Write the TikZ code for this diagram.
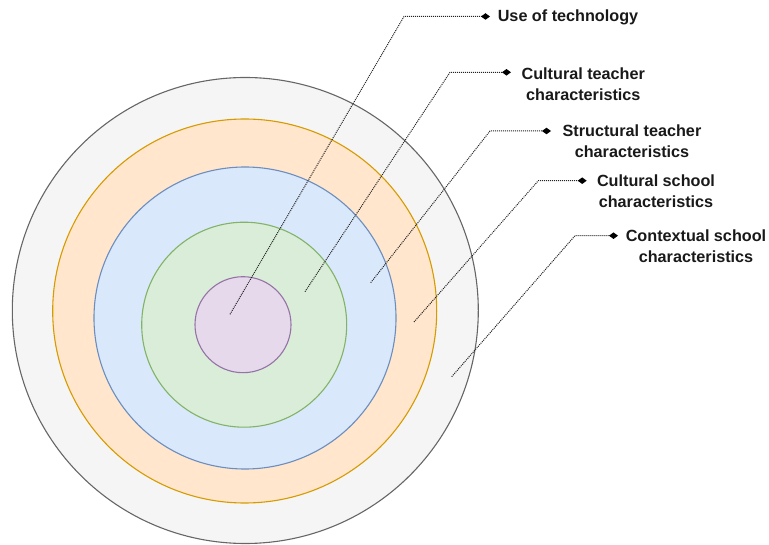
\documentclass[tikz,border=0pt]{standalone}
\usepackage{fontspec}
\setmainfont{Liberation Sans}
\usetikzlibrary{arrows.meta}

\definecolor{grayfill}{HTML}{F5F5F5}
\definecolor{graydraw}{HTML}{666666}
\definecolor{orangefill}{HTML}{FFE6CC}
\definecolor{orangedraw}{HTML}{D79B00}
\definecolor{bluefill}{HTML}{DAE8FC}
\definecolor{bluedraw}{HTML}{6C8EBF}
\definecolor{greenfill}{HTML}{D9EDD8}
\definecolor{greendraw}{HTML}{82B366}
\definecolor{purplefill}{HTML}{E6D9EC}
\definecolor{purpledraw}{HTML}{9673A6}
\definecolor{leadercol}{HTML}{222222}

\begin{document}
\begin{tikzpicture}[x=1pt,y=-1pt,
  ring/.style={circle, line width=1.1pt, inner sep=0pt, minimum size=#1},
  lbl/.style={font=\bfseries\fontsize{16.2}{21}\selectfont, align=center,
    inner sep=0pt, anchor=north, text=black!90},
  leader/.style={draw=leadercol, line width=1pt,
    dash pattern=on 1pt off 1pt,
    -{Diamond[length=9pt,width=6.5pt,fill=black,line width=0pt]}}]
\useasboundingbox (0,0) rectangle (769,545);

% nested rings, outermost first
\node[ring=466pt, fill=grayfill,   draw=graydraw]   (outer)  at (245.3,310.5) {};
\node[ring=384pt, fill=orangefill, draw=orangedraw] (orange) at (244.7,311)   {};
\node[ring=302pt, fill=bluefill,   draw=bluedraw]   (blue)   at (245,318)     {};
\node[ring=205pt, fill=greenfill,  draw=greendraw]  (green)  at (244.2,324.7) {};
\node[ring=96pt,  fill=purplefill, draw=purpledraw] (core)   at (243,324.7)   {};

% labels
\node[lbl] (t1) at (568,9.5)   {Use of technology};
\node[lbl] (t2) at (583.3,68)  {Cultural teacher\\characteristics};
\node[lbl] (t3) at (632,125)   {Structural teacher\\characteristics};
\node[lbl] (t4) at (656,175)   {Cultural school\\characteristics};
\node[lbl] (t5) at (696,230)   {Contextual school\\characteristics};

% leader start points, elbows and tips
\coordinate (s1) at (230,314.3);   \coordinate (k1) at (404,16.5);   \coordinate (e1) at (490,16.5);
\coordinate (s2) at (305,291.7);   \coordinate (k2) at (450,72.3);   \coordinate (e2) at (511,72.3);
\coordinate (s3) at (370.7,282.7); \coordinate (k3) at (490,131);    \coordinate (e3) at (551,131);
\coordinate (s4) at (414,322);     \coordinate (k4) at (538.3,180.7);\coordinate (e4) at (586.7,180.7);
\coordinate (s5) at (451.7,376.7); \coordinate (k5) at (575,235.7);  \coordinate (e5) at (618,235.7);

\draw[leader] (s1) -- (k1) -- (e1);
\draw[leader] (s2) -- (k2) -- (e2);
\draw[leader] (s3) -- (k3) -- (e3);
\draw[leader] (s4) -- (k4) -- (e4);
\draw[leader] (s5) -- (k5) -- (e5);
\end{tikzpicture}
\end{document}
